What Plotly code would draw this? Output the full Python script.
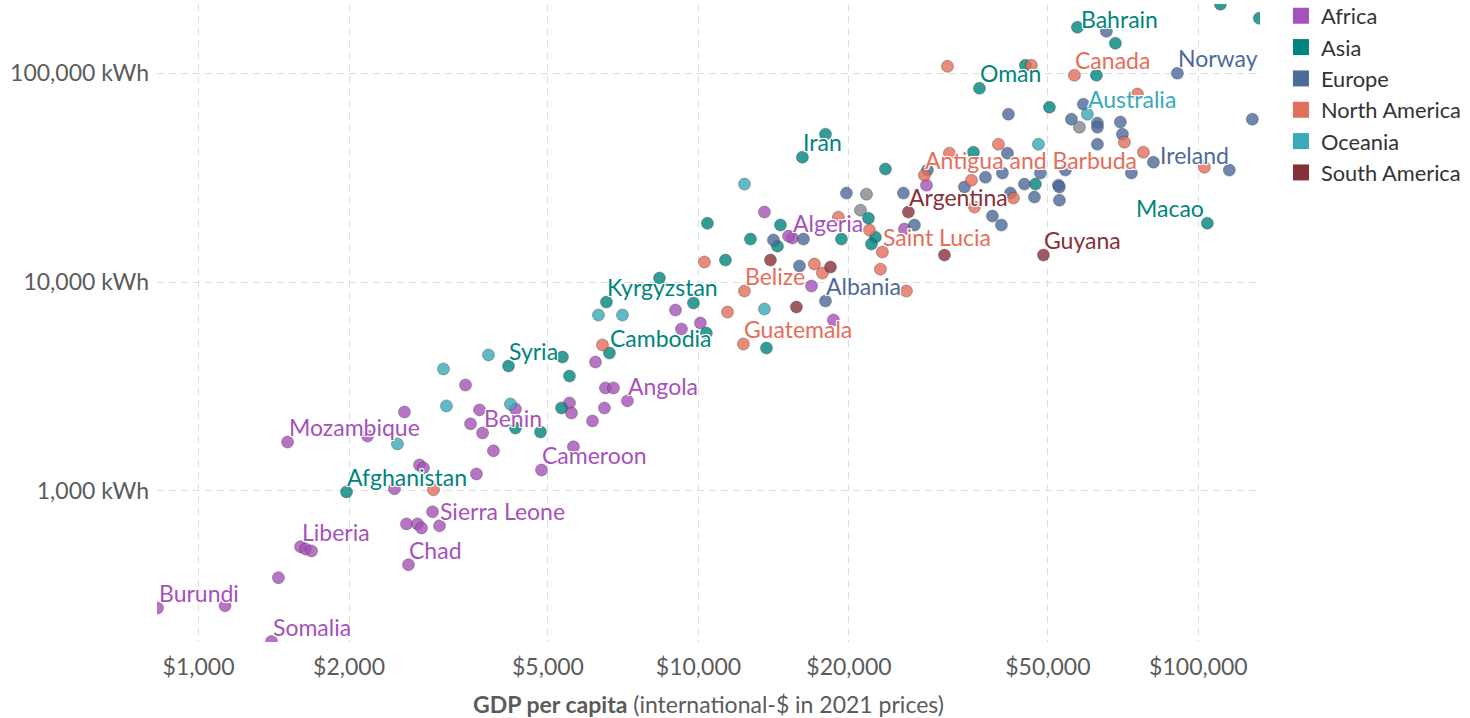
import plotly.graph_objects as go
import numpy as np

# ---------------- data (GDP per capita, int.-$ 2021; primary energy per capita, kWh) ----------------
continents = ["Africa", "Asia", "Europe", "North America", "Oceania", "South America"]
colors = ["#A652BA", "#00847E", "#4C6A9C", "#E56E5A", "#38AABA", "#883039"]

africa_gdp = [828, 1130, 1400, 1445, 1600, 1637, 1683, 1507, 2178, 2582, 3420, 3648, 3500, 3700, 3890,
              2767, 2818, 3597, 2466, 2938, 2606, 2742, 2793, 3034, 2630, 4305, 4853, 5623, 5521, 5572,
              6138, 6486, 6516, 6761, 7211, 6223, 8995, 9247, 10090, 13552, 15417, 15140, 16830, 18620,
              28580, 25820]
africa_kwh = [275, 282, 190, 384, 540, 527, 516, 1714, 1832, 2388, 3214, 2443, 2094, 1895, 1555,
              1331, 1288, 1206, 1023, 794, 695, 695, 665, 680, 443, 2466, 1259, 1625, 2636, 2360,
              2163, 2495, 3112, 3112, 2698, 4140, 7345, 5957, 6368, 21630, 16240, 16600, 9570, 6577,
              29110, 17940]
africa_name = ["Burundi", "", "Somalia", "", "Liberia", "", "", "Mozambique", "", "", "", "", "", "Benin", "",
               "", "", "", "", "", "", "", "", "Sierra Leone", "Chad", "", "Cameroon", "", "", "",
               "", "", "", "", "Angola", "", "", "", "", "", "Algeria", "", "", "",
               "", ""]

asia_gdp = [1977, 4169, 4305, 4831, 5346, 5521, 5321, 6637, 6546, 8356, 9772, 10370, 10423, 12706,
            11324, 14588, 14388, 13680, 19320, 16140, 17950, 23660, 21880, 22590, 22180, 36480, 35480,
            45080, 57280, 68230, 62520, 50350, 47210, 110660, 132400, 104200]
asia_kwh = [989, 3963, 2000, 1914, 4375, 3548, 2495, 4573, 8017, 10450, 7943, 5700, 19140, 16060,
            12740, 18740, 14860, 4831, 16060, 39630, 51050, 34750, 20230, 16410, 15200, 84750, 41880,
            109200, 166000, 139200, 97800, 68770, 29440, 213800, 183300, 19140]
asia_name = ["Afghanistan", "Syria", "", "", "", "", "", "Cambodia", "Kyrgyzstan", "", "", "", "", "",
             "", "", "", "", "", "Iran", "", "", "", "", "", "Oman", "",
             "", "Bahrain", "", "", "", "", "", "", "Macao"]

europe_gdp = [17950, 15922, 14125, 16218, 19770, 25700, 27040, 28710, 34040, 37500, 38730, 40360,
              41500, 42070, 44870, 46990, 40550, 48310, 54200, 52480, 52720, 52720, 41690, 58880,
              55720, 62810, 62810, 69820, 70470, 62810, 73450, 81280, 115300, 128200, 90780, 65460]
europe_kwh = [8110, 11940, 15890, 16060, 26660, 26660, 18740, 34360, 28510, 31770, 20700, 18740,
              41400, 26660, 29440, 25510, 33240, 33240, 34360, 29110, 28510, 24660, 63680, 71080,
              60260, 57680, 55170, 58340, 51050, 45710, 33240, 37500, 34360, 60260, 100000, 158800]
europe_name = ["Albania", "", "", "", "", "", "", "", "", "", "", "",
               "", "", "", "", "", "", "", "", "", "", "", "",
               "", "", "", "", "", "", "", "Ireland", "", "", "Norway", ""]

namerica_gdp = [2951, 6427, 10280, 12360, 11430, 12300, 17060, 17700, 19050, 21980, 23330, 23120,
                26060, 28310, 31770, 31480, 46340, 56490, 35160, 35650, 42660, 39810, 75510, 71120,
                77620, 102800]
namerica_kwh = [1012, 4998, 12470, 9057, 7180, 5050, 12190, 11040, 20460, 17740, 13920, 11530,
                9057, 32510, 41400, 107900, 109200, 97800, 30760, 22860, 25230, 45710, 79430, 46770,
                41880, 35480]
namerica_name = ["", "", "", "Belize", "", "Guatemala", "", "", "", "", "Saint Lucia", "",
                 "", "Antigua and Barbuda", "", "", "", "Canada", "", "", "", "", "", "",
                 "", ""]

oceania_gdp = [2500, 3090, 3133, 3802, 4207, 6310, 7047, 12359, 13552, 47860, 59980]
oceania_kwh = [1679, 3837, 2553, 4477, 2606, 6950, 6950, 29440, 7430, 45710, 63680]
oceania_name = ["", "", "", "", "", "", "", "", "", "", "Australia"]

samerica_gdp = [13932, 15700, 18370, 26300, 31050, 48980]
samerica_kwh = [12740, 7590, 11800, 21630, 13460, 13460]
samerica_name = ["", "", "", "Argentina", "", "Guyana"]

other_gdp = [21680, 21090, 57810]
other_kwh = [26360, 22100, 55170]

x_ticks = [1000, 2000, 5000, 10000, 20000, 50000, 100000]
x_ticktext = ["$1,000", "$2,000", "$5,000", "$10,000", "$20,000", "$50,000", "$100,000"]
y_ticks = [1000, 10000, 100000]
y_ticktext = ["1,000 kWh", "10,000 kWh", "100,000 kWh"]

series = [
    (africa_gdp, africa_kwh, africa_name),
    (asia_gdp, asia_kwh, asia_name),
    (europe_gdp, europe_kwh, europe_name),
    (namerica_gdp, namerica_kwh, namerica_name),
    (oceania_gdp, oceania_kwh, oceania_name),
    (samerica_gdp, samerica_kwh, samerica_name),
]
# label placement tweaks (style only)
right_aligned_labels = {"Macao"}
label_shift = {"Bahrain": (2, 8), "Ireland": (5, 7)}

FONT = "Lato, 'Open Sans', sans-serif"
fig = go.Figure()

marker_line = dict(color="rgba(40,40,40,0.55)", width=0.8)

fig.add_trace(go.Scatter(x=other_gdp, y=other_kwh, mode="markers", showlegend=False,
                         marker=dict(color="#8A8F97", size=12, opacity=0.85, line=marker_line),
                         hoverinfo="x+y"))

for cont, col, (gx, ky, nm) in zip(continents, colors, series):
    fig.add_trace(go.Scatter(x=gx, y=ky, mode="markers", showlegend=False, name=cont,
                             marker=dict(color=col, size=12, opacity=0.8, line=marker_line),
                             text=nm, hovertemplate="%{text}<br>%{x}<br>%{y}<extra>" + cont + "</extra>"))

# legend entries (square swatches)
for cont, col in zip(continents, colors):
    fig.add_trace(go.Scatter(x=[None], y=[None], mode="markers", name=cont, legendgroup=cont,
                             marker=dict(color=col, size=16, symbol="square")))

shadow = "-1px -1px 0 #fff, 1px -1px 0 #fff, -1px 1px 0 #fff, 1px 1px 0 #fff, 0 0 2px #fff"
for col, (gx, ky, nm) in zip(colors, series):
    for g, k, n in zip(gx, ky, nm):
        if not n:
            continue
        right = n in right_aligned_labels
        dx, dy = label_shift.get(n, (-1, 15))
        fig.add_annotation(x=np.log10(g), y=np.log10(k), xref="x", yref="y", text=n,
                           showarrow=False, xanchor="right" if right else "left", yanchor="middle",
                           xshift=dx, yshift=dy,
                           font=dict(family=FONT, size=23, color=col, shadow=shadow))

grid = dict(showgrid=True, gridcolor="#dddddd", gridwidth=1, griddash="7px,5px",
            zeroline=False, showline=False, ticks="")

fig.update_xaxes(type="log", range=[np.log10(826), np.log10(132800)], tickvals=x_ticks,
                 ticktext=x_ticktext, tickfont=dict(family=FONT, size=23, color="#5b5b5b"),
                 ticklabelstandoff=9,
                 title=dict(text="<b>GDP per capita</b> (international-$ in 2021 prices)",
                            font=dict(family=FONT, size=23, color="#5b5b5b"), standoff=19),
                 **grid)
fig.update_yaxes(type="log", range=[np.log10(189), np.log10(214500)], tickvals=y_ticks,
                 ticktext=y_ticktext, tickfont=dict(family=FONT, size=23, color="#5b5b5b"),
                 ticklabelstandoff=7, **grid)

fig.update_layout(
    width=1470, height=718,
    margin=dict(l=157, r=210, t=4, b=76, autoexpand=False),
    plot_bgcolor="white", paper_bgcolor="white",
    font=dict(family=FONT, color="#333333"),
    legend=dict(x=1.019, y=1.014, xanchor="left", yanchor="top",
                font=dict(family=FONT, size=21.8, color="#333333"),
                itemsizing="trace", tracegroupgap=0, bgcolor="rgba(0,0,0,0)"),
)

fig.write_html("out.html", config={"displayModeBar": False},
               post_script="document.body.style.margin='0';document.body.style.overflow='hidden';")
